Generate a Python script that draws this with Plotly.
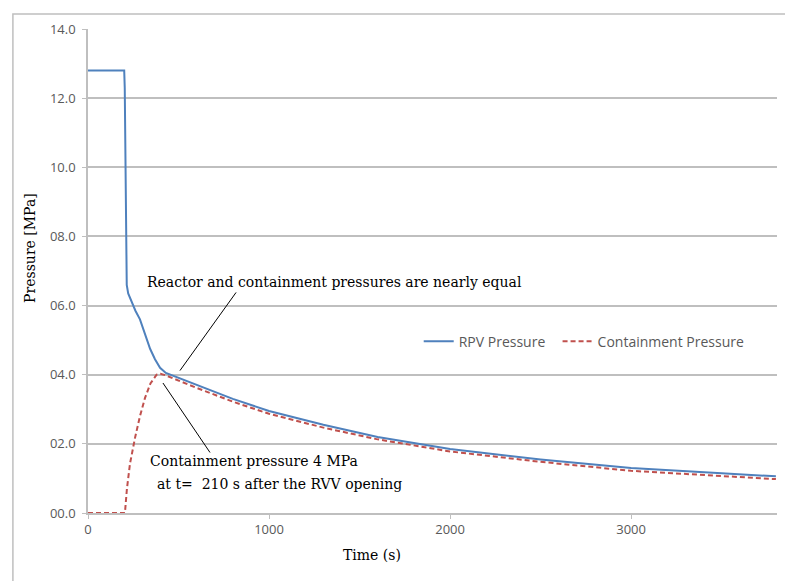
import plotly.graph_objects as go

# ---- data ----
rpv_time = [0, 200, 203, 208, 214, 222, 240, 262, 287, 315, 343, 370, 398, 430, 490,
            600, 800, 1000, 1300, 1600, 2000, 2500, 3000, 3500, 3800]
rpv_pressure = [12.8, 12.8, 12.3, 8.9, 6.6, 6.35, 6.1, 5.85, 5.6, 5.2, 4.75, 4.45, 4.2, 4.05, 3.93,
                3.7, 3.3, 2.95, 2.55, 2.2, 1.85, 1.55, 1.3, 1.15, 1.06]

cont_time = [0, 204, 215, 232, 260, 287, 315, 345, 379, 400, 430, 490, 600, 800, 1000,
             1300, 1600, 2000, 2500, 3000, 3500, 3800]
cont_pressure = [0, 0, 0.7, 1.43, 2.18, 2.8, 3.33, 3.75, 4.0, 4.03, 3.98, 3.85, 3.62, 3.22, 2.87,
                 2.47, 2.13, 1.78, 1.48, 1.22, 1.07, 0.98]

y_tickvals = [0, 2, 4, 6, 8, 10, 12, 14]
y_ticktext = ["00.0", "02.0", "04.0", "06.0", "08.0", "10.0", "12.0", "14.0"]
x_tickvals = [0, 1000, 2000, 3000]
x_ticktext = ["0", "1000", "2000", "3000"]

series_names = ["RPV Pressure", "Containment Pressure"]

note1_text = "Reactor and containment pressures are nearly equal"
note1_pos = (315, 6.67)
note1_line = ((818, 6.38), (508, 4.12))

note2a_text = "Containment pressure 4 MPa"
note2a_pos = (331, 1.49)
note2b_text = "at t=\u00a0 210 s after the RVV opening"
note2b_pos = (370, 0.83)
note2_line = ((414, 3.76), (674, 1.75))

# ---- figure ----
grid_col = "#BFBFBF"
tick_col = "#595959"
sans = "Open Sans, Liberation Sans, Arial, sans-serif"
serif = "DejaVu Serif, Liberation Serif, serif"

fig = go.Figure()
fig.add_trace(go.Scatter(x=rpv_time, y=rpv_pressure, mode="lines", name=series_names[0] + "\u00a0\u00a0",
                         line=dict(color="#4F81BD", width=2)))
fig.add_trace(go.Scatter(x=cont_time, y=cont_pressure, mode="lines", name=series_names[1],
                         line=dict(color="#C0504D", width=2, dash="5px,3px")))

fig.update_layout(
    width=785, height=573,
    margin=dict(l=80, r=16, t=16, b=68),
    paper_bgcolor="white", plot_bgcolor="white",
    showlegend=True,
    legend=dict(orientation="h", x=0.48, y=0.354, xanchor="left", yanchor="middle",
                font=dict(family=sans, size=14, color=tick_col), bgcolor="rgba(0,0,0,0)",
                itemwidth=30),
    xaxis=dict(range=[0, 3806], tickvals=x_tickvals, ticktext=x_ticktext,
               showgrid=False, zeroline=False, showline=True, linecolor=grid_col, linewidth=1.5,
               ticks="outside", ticklen=4, tickcolor=grid_col,
               tickfont=dict(family=sans, size=13, color=tick_col)),
    yaxis=dict(range=[0, 14], tickvals=y_tickvals, ticktext=y_ticktext,
               showgrid=True, gridcolor=grid_col, gridwidth=1.5, zeroline=False,
               showline=True, linecolor=grid_col, linewidth=1.5,
               ticks="outside", ticklen=4, tickcolor=grid_col, ticklabelstandoff=4,
               tickfont=dict(family=sans, size=13, color=tick_col)),
)

# outer border
fig.add_shape(type="rect", xref="paper", yref="paper", x0=-0.109, y0=-0.2, x1=1.05, y1=1.031,
              line=dict(color="#BFBFBF", width=1.5), fillcolor="rgba(0,0,0,0)", layer="below")

# annotation lines
for (p0, p1) in [note1_line, note2_line]:
    fig.add_shape(type="line", xref="x", yref="y", x0=p0[0], y0=p0[1], x1=p1[0], y1=p1[1],
                  line=dict(color="black", width=1))

for txt, pos in [(note1_text, note1_pos), (note2a_text, note2a_pos), (note2b_text, note2b_pos)]:
    fig.add_annotation(x=pos[0], y=pos[1], xref="x", yref="y", text=txt, showarrow=False,
                       xanchor="left", yanchor="middle",
                       font=dict(family=serif, size=14, color="black"))

# axis titles
fig.add_annotation(x=0.412, y=-0.086, xref="paper", yref="paper", text="Time (s)", showarrow=False,
                   xanchor="center", yanchor="middle", font=dict(family=serif, size=14, color="black"))
fig.add_annotation(x=-0.084, y=0.548, xref="paper", yref="paper", text="Pressure [MPa]", showarrow=False,
                   textangle=-90, xanchor="center", yanchor="middle",
                   font=dict(family=serif, size=14, color="black"))

fig.write_html("out.html")
